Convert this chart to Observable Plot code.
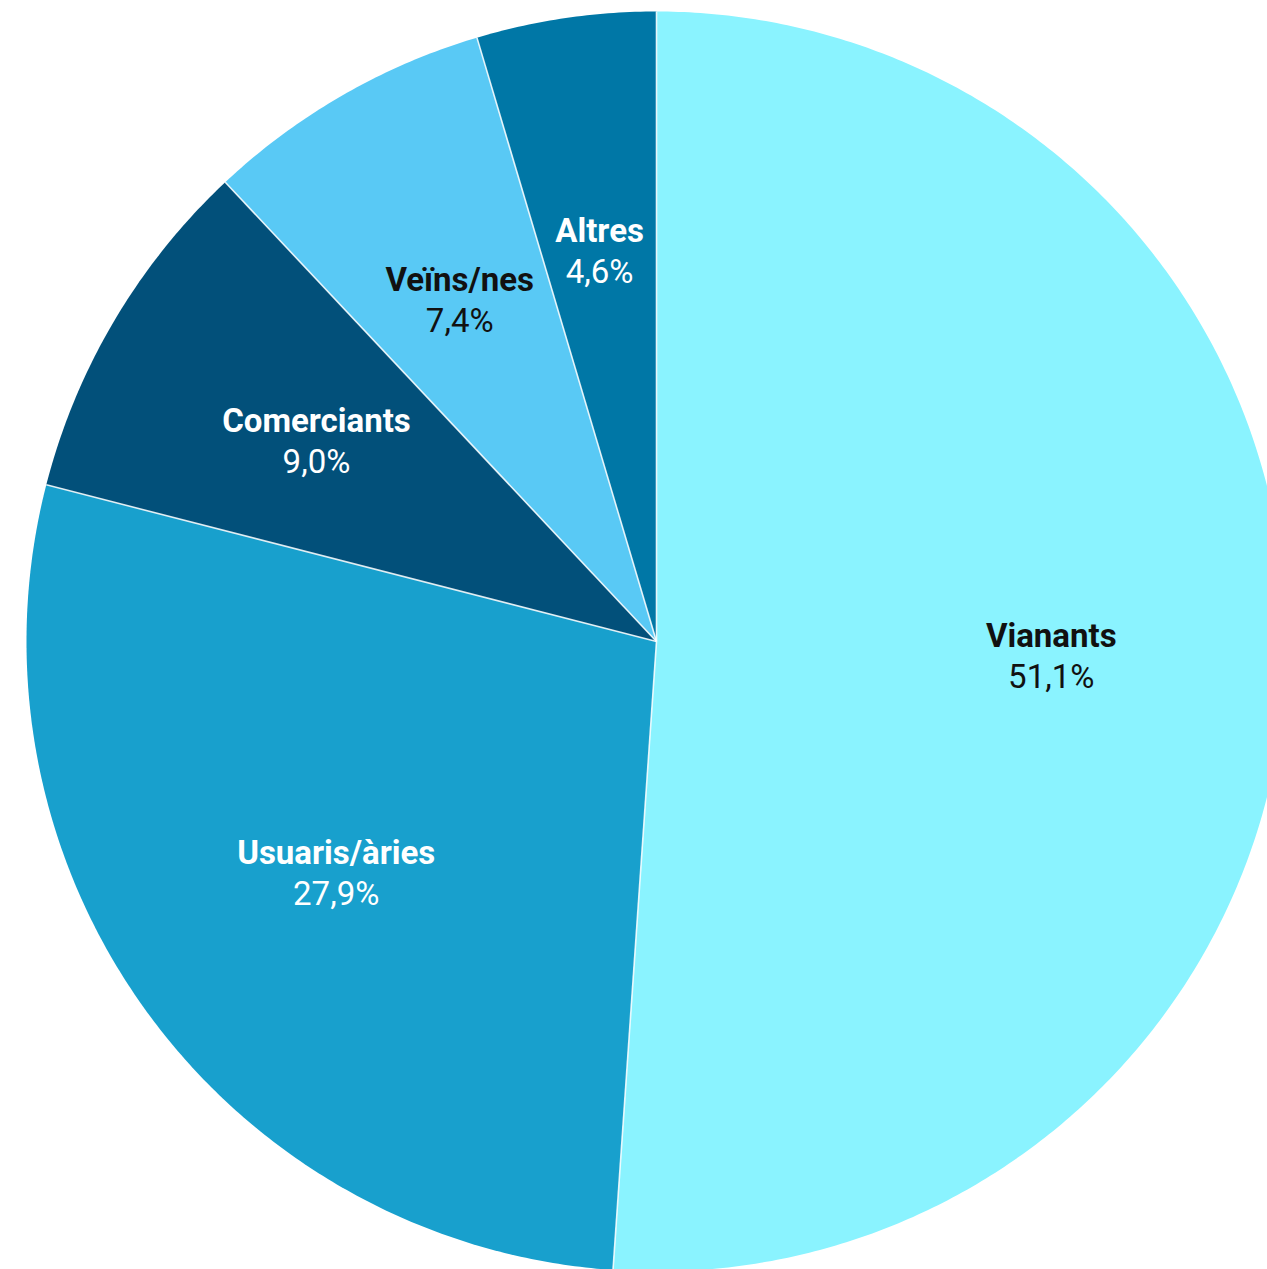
<!DOCTYPE html>
<html>
<head>
<meta charset="utf-8">
<script src="https://cdn.jsdelivr.net/npm/d3@7"></script>
<script src="https://cdn.jsdelivr.net/npm/@observablehq/plot@0.6"></script>
<style>
  html, body { margin: 0; padding: 0; background: #ffffff; overflow: hidden; }
  #chart svg { display: block; }
</style>
</head>
<body>
<div id="chart"></div>
<script>
const categories = ["Vianants", "Usuaris/àries", "Comerciants", "Veïns/nes", "Altres"];
const values = [51.1, 27.9, 9.0, 7.4, 4.6];
const percentLabels = ["51,1%", "27,9%", "9,0%", "7,4%", "4,6%"];
const sliceColors = ["#8AF3FF", "#18A0CD", "#02507A", "#59C9F5", "#0077A6"];
const textColors = ["#111111", "#ffffff", "#ffffff", "#111111", "#ffffff"];

const pie = d3.pie().sort(null).value(d => d.value)(
  categories.map((c, i) => ({category: c, value: values[i], pct: percentLabels[i], text: textColors[i]}))
);

// polygons for slices: center + arc sampled
const poly = [];
for (const a of pie) {
  const n = Math.max(2, Math.ceil((a.endAngle - a.startAngle) / (Math.PI / 360)));
  poly.push({category: a.data.category, x: 0, y: 0});
  for (let k = 0; k <= n; k++) {
    const t = a.startAngle + (a.endAngle - a.startAngle) * k / n;
    poly.push({category: a.data.category, x: Math.sin(t), y: Math.cos(t)});
  }
}
const seps = pie.map(a => ({x2: Math.sin(a.startAngle), y2: Math.cos(a.startAngle)}));
const labelR = 0.627;
const labels = pie.map(a => {
  const m = (a.startAngle + a.endAngle) / 2;
  return {category: a.data.category, pct: a.data.pct, text: a.data.text, x: labelR * Math.sin(m), y: labelR * Math.cos(m)};
});

const cx = 656, cy = 641, R = 630;
const chart = Plot.plot({
  width: 1267,
  height: 1269,
  margin: 0,
  x: {domain: [-1, 1], range: [cx - R, cx + R], axis: null},
  y: {domain: [-1, 1], range: [cy + R, cy - R], axis: null},
  color: {type: "ordinal", domain: categories, range: sliceColors},
  style: {fontFamily: "Roboto, sans-serif", background: "#ffffff"},
  marks: [
    Plot.line(poly, {x: "x", y: "y", z: "category", fill: "category", stroke: "none"}),
    Plot.link(seps, {x1: 0, y1: 0, x2: "x2", y2: "y2", stroke: "#ffffff", strokeWidth: 1.6, strokeOpacity: 0.85}),
    Plot.text(labels, {x: "x", y: "y", text: "category", fill: d => d.text, dy: -19, fontSize: 33, fontWeight: "bold"}),
    Plot.text(labels, {x: "x", y: "y", text: "pct", fill: d => d.text, dy: 22, fontSize: 33, fontWeight: "normal"})
  ]
});
document.getElementById("chart").appendChild(chart);
</script>
</body>
</html>
